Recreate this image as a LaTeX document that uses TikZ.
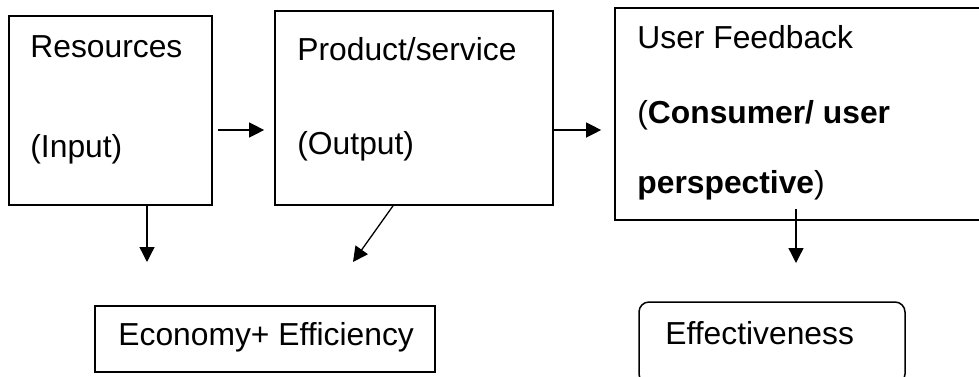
\documentclass[tikz,border=0pt]{standalone}
\usepackage{fontspec}
\setmainfont{Liberation Sans}
\usepackage{tikz}
\usetikzlibrary{arrows.meta, fit}

\begin{document}
\begin{tikzpicture}[
    x=0.5pt, y=-0.5pt,
    box/.style={rectangle, draw=black, line width=0.85pt, inner sep=0pt},
    roundbox/.style={rectangle, rounded corners=5pt, draw=black, line width=0.75pt, inner sep=0pt},
    lbl/.style={anchor=base west, inner sep=0pt, font=\fontsize{15.9pt}{19pt}\selectfont},
    arrow/.style={-{Triangle[length=7.5pt, width=7.5pt]}, line width=0.65pt}
]
\useasboundingbox (0,0) rectangle (979,376);

% Top row
\node[box, fit={(9,16) (212,205)}] (res) {};
\node[box, fit={(275,11) (553,205)}] (prod) {};
\node[box, fit={(615,8) (990,220)}] (fb) {};

\node[lbl] (resA) at (30,57) {Resources};
\node[lbl] (resB) at (30,157) {(Input)};
\node[lbl] (prodA) at (297,60) {Product/service};
\node[lbl] (prodB) at (297,154) {(Output)};
\node[lbl] (fbA) at (637,48) {User Feedback};
\node[lbl] (fbB) at (637,123) {(\textbf{Consumer/ user}};
\node[lbl] (fbC) at (637,193) {\textbf{perspective})};

% Bottom row
\node[box, line width=0.75pt, fit={(95,306) (435,372)}] (econ) {};
\node[lbl] (econT) at (118,345) {Economy+ Efficiency};
\node[roundbox, fit={(639,302) (905,384)}] (eff) {};
\node[lbl] (effT) at (665,344) {Effectiveness};

% Arrows
\coordinate (mid) at (0,130);
\coordinate (econL) at (147,262);
\coordinate (econR) at (353,262);
\coordinate (effTop) at (796,263);
\draw[arrow, shorten <=2.5pt, shorten >=5pt] (res.east |- mid) -- (prod.west |- mid);
\draw[arrow, shorten >=6.5pt] (prod.east |- mid) -- (fb.west |- mid);
\draw[arrow] (res.south -| econL) -- (econL);
\draw[arrow] ([xshift=-10.5pt]prod.south) -- (econR);
\draw[arrow] ([yshift=6pt]fb.south -| effTop) -- (effTop);

\end{tikzpicture}
\end{document}
